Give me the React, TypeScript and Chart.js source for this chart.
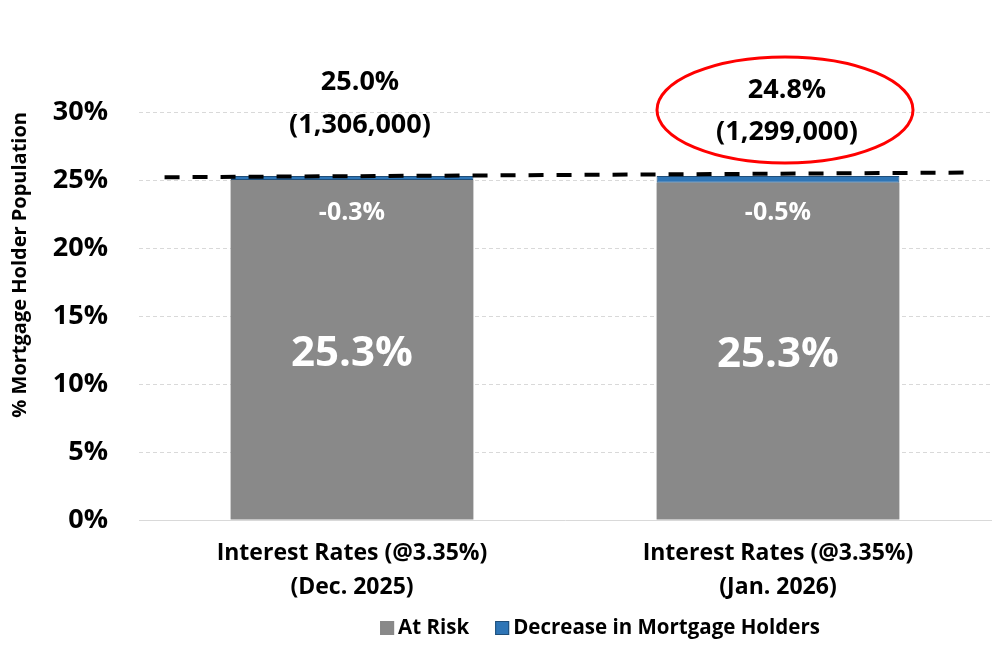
import React, { useEffect, useRef } from "react";
import { Chart, registerables } from "chart.js";
Chart.register(...registerables);

const categories: string[][] = [
  ["Interest Rates (@3.35%)", "(Dec. 2025)"],
  ["Interest Rates (@3.35%)", "(Jan. 2026)"],
];
const atRisk = [25.0, 24.8];
const decrease = [0.3, 0.5];
const totalLabels = ["25.0%", "24.8%"];
const holderCounts = ["(1,306,000)", "(1,299,000)"];
const decreaseLabels = ["-0.3%", "-0.5%"];
const baseLabels = ["25.3%", "25.3%"];
const referenceLine = [25.2, 25.55];
const seriesNames = ["At Risk", "Decrease in Mortgage Holders"];
const yMax = 30;
const yStep = 5;

const FONT = "'Open Sans', sans-serif";
const GRAY = "#898989";
const BLUE = "#2e75b6";
const BLUE_DARK = "#1f4e79";

const overlayPlugin = {
  id: "overlay",
  afterDatasetsDraw(chart: any) {
    const { ctx, scales } = chart;
    const x = scales.x;
    const y = scales.y;
    const m0 = chart.getDatasetMeta(0);
    const m1 = chart.getDatasetMeta(1);

    // dashed reference line
    ctx.save();
    ctx.strokeStyle = "#000";
    ctx.lineWidth = 4;
    ctx.setLineDash([15, 13]);
    ctx.beginPath();
    ctx.moveTo(x.getPixelForValue(-0.44), y.getPixelForValue(referenceLine[0]));
    ctx.lineTo(x.getPixelForValue(1.46), y.getPixelForValue(referenceLine[1]));
    ctx.stroke();
    ctx.restore();

    ctx.save();
    ctx.textAlign = "center";
    ctx.textBaseline = "middle";
    const topOffsets = [
      [94, 51],
      [86, 44],
    ];
    const xShift = [8, 9];
    for (let i = 0; i < atRisk.length; i++) {
      const bar0 = m0.data[i];
      const bar1 = m1.data[i];
      const cx = bar0.x;
      const top = bar1.y;
      ctx.fillStyle = "#000";
      ctx.font = `bold 27px ${FONT}`;
      ctx.fillText(totalLabels[i], cx + xShift[i], top - topOffsets[i][0]);
      ctx.fillText(holderCounts[i], cx + xShift[i], top - topOffsets[i][1]);
      ctx.fillStyle = "#fff";
      ctx.font = `bold 25px ${FONT}`;
      ctx.fillText(decreaseLabels[i], cx, top + 37);
      ctx.font = `bold 42px ${FONT}`;
      ctx.fillText(baseLabels[i], cx, (bar0.y + bar0.base) / 2 + 4);
      if (i === 1) {
        ctx.save();
        ctx.strokeStyle = "#ff0000";
        ctx.lineWidth = 3;
        ctx.beginPath();
        ctx.ellipse(cx + 7, top - 66, 128, 53, 0, 0, Math.PI * 2);
        ctx.stroke();
        ctx.restore();
      }
    }
    ctx.restore();

    // legend
    ctx.save();
    ctx.font = `bold 20.5px ${FONT}`;
    ctx.textBaseline = "middle";
    ctx.textAlign = "left";
    const box = 14;
    const gapBoxText = 4;
    const gapItems = 26;
    const widths = seriesNames.map((n) => ctx.measureText(n).width);
    const total = widths.reduce((a, w) => a + box + gapBoxText + w, 0) + gapItems;
    let lx = 600 - total / 2;
    const ly = chart.height - 28;
    const colors = [GRAY, BLUE];
    const borders = [GRAY, BLUE_DARK];
    seriesNames.forEach((n, i) => {
      ctx.fillStyle = colors[i];
      ctx.fillRect(lx, ly - box / 2, box, box);
      ctx.strokeStyle = borders[i];
      ctx.lineWidth = 1;
      ctx.strokeRect(lx + 0.5, ly - box / 2 + 0.5, box - 1, box - 1);
      ctx.fillStyle = "#000";
      ctx.fillText(n, lx + box + gapBoxText, ly);
      lx += box + gapBoxText + widths[i] + gapItems;
    });
    ctx.restore();
  },
};

export default function App() {
  const ref = useRef<HTMLCanvasElement | null>(null);
  useEffect(() => {
    document.body.style.margin = "0";
    const chart = new Chart(ref.current as HTMLCanvasElement, {
      type: "bar",
      data: {
        labels: categories as any,
        datasets: [
          {
            label: seriesNames[0],
            data: atRisk,
            backgroundColor: GRAY,
            borderWidth: 0,
            categoryPercentage: 1,
            barPercentage: 0.57,
          },
          {
            label: seriesNames[1],
            data: decrease,
            backgroundColor: BLUE,
            borderColor: BLUE_DARK,
            borderWidth: 1,
            borderSkipped: false,
            categoryPercentage: 1,
            barPercentage: 0.57,
          },
        ],
      },
      options: {
        animation: false,
        responsive: false,
        maintainAspectRatio: false,
        layout: { padding: { top: 112, right: 16, bottom: 48, left: 0 } },
        plugins: {
          legend: { display: false },
          tooltip: { enabled: false },
        },
        scales: {
          x: {
            stacked: true,
            grid: { display: false, drawTicks: false },
            border: { display: true, color: "#d9d9d9" },
            ticks: {
              color: "#000",
              padding: 16,
              font: { family: FONT, size: 23, weight: "bold", lineHeight: 1.48 },
            },
            afterFit: (s: any) => {
              s.height = 88;
            },
          },
          y: {
            stacked: true,
            min: 0,
            max: yMax,
            ticks: {
              stepSize: yStep,
              color: "#000",
              padding: 31,
              font: { family: FONT, size: 27, weight: "bold" },
              callback: (v: any) => `${v}%`,
            },
            grid: {
              color: "#d9d9d9",
              drawTicks: false,
              lineWidth: 1,
            },
            border: { display: false, dash: [4, 3] },
            title: {
              display: true,
              text: "% Mortgage Holder Population",
              align: "end",
              color: "#000",
              padding: { top: 8, bottom: 0 },
              font: { family: FONT, size: 20, weight: "bold" },
            },
            afterFit: (s: any) => {
              s.width = 139;
            },
          },
        },
      },
      plugins: [overlayPlugin],
    } as any);
    return () => chart.destroy();
  }, []);
  return (
    <div style={{ position: "absolute", left: 0, top: 0, width: 1007, height: 656, background: "#fff" }}>
      <canvas ref={ref} width={1007} height={656} />
    </div>
  );
}
